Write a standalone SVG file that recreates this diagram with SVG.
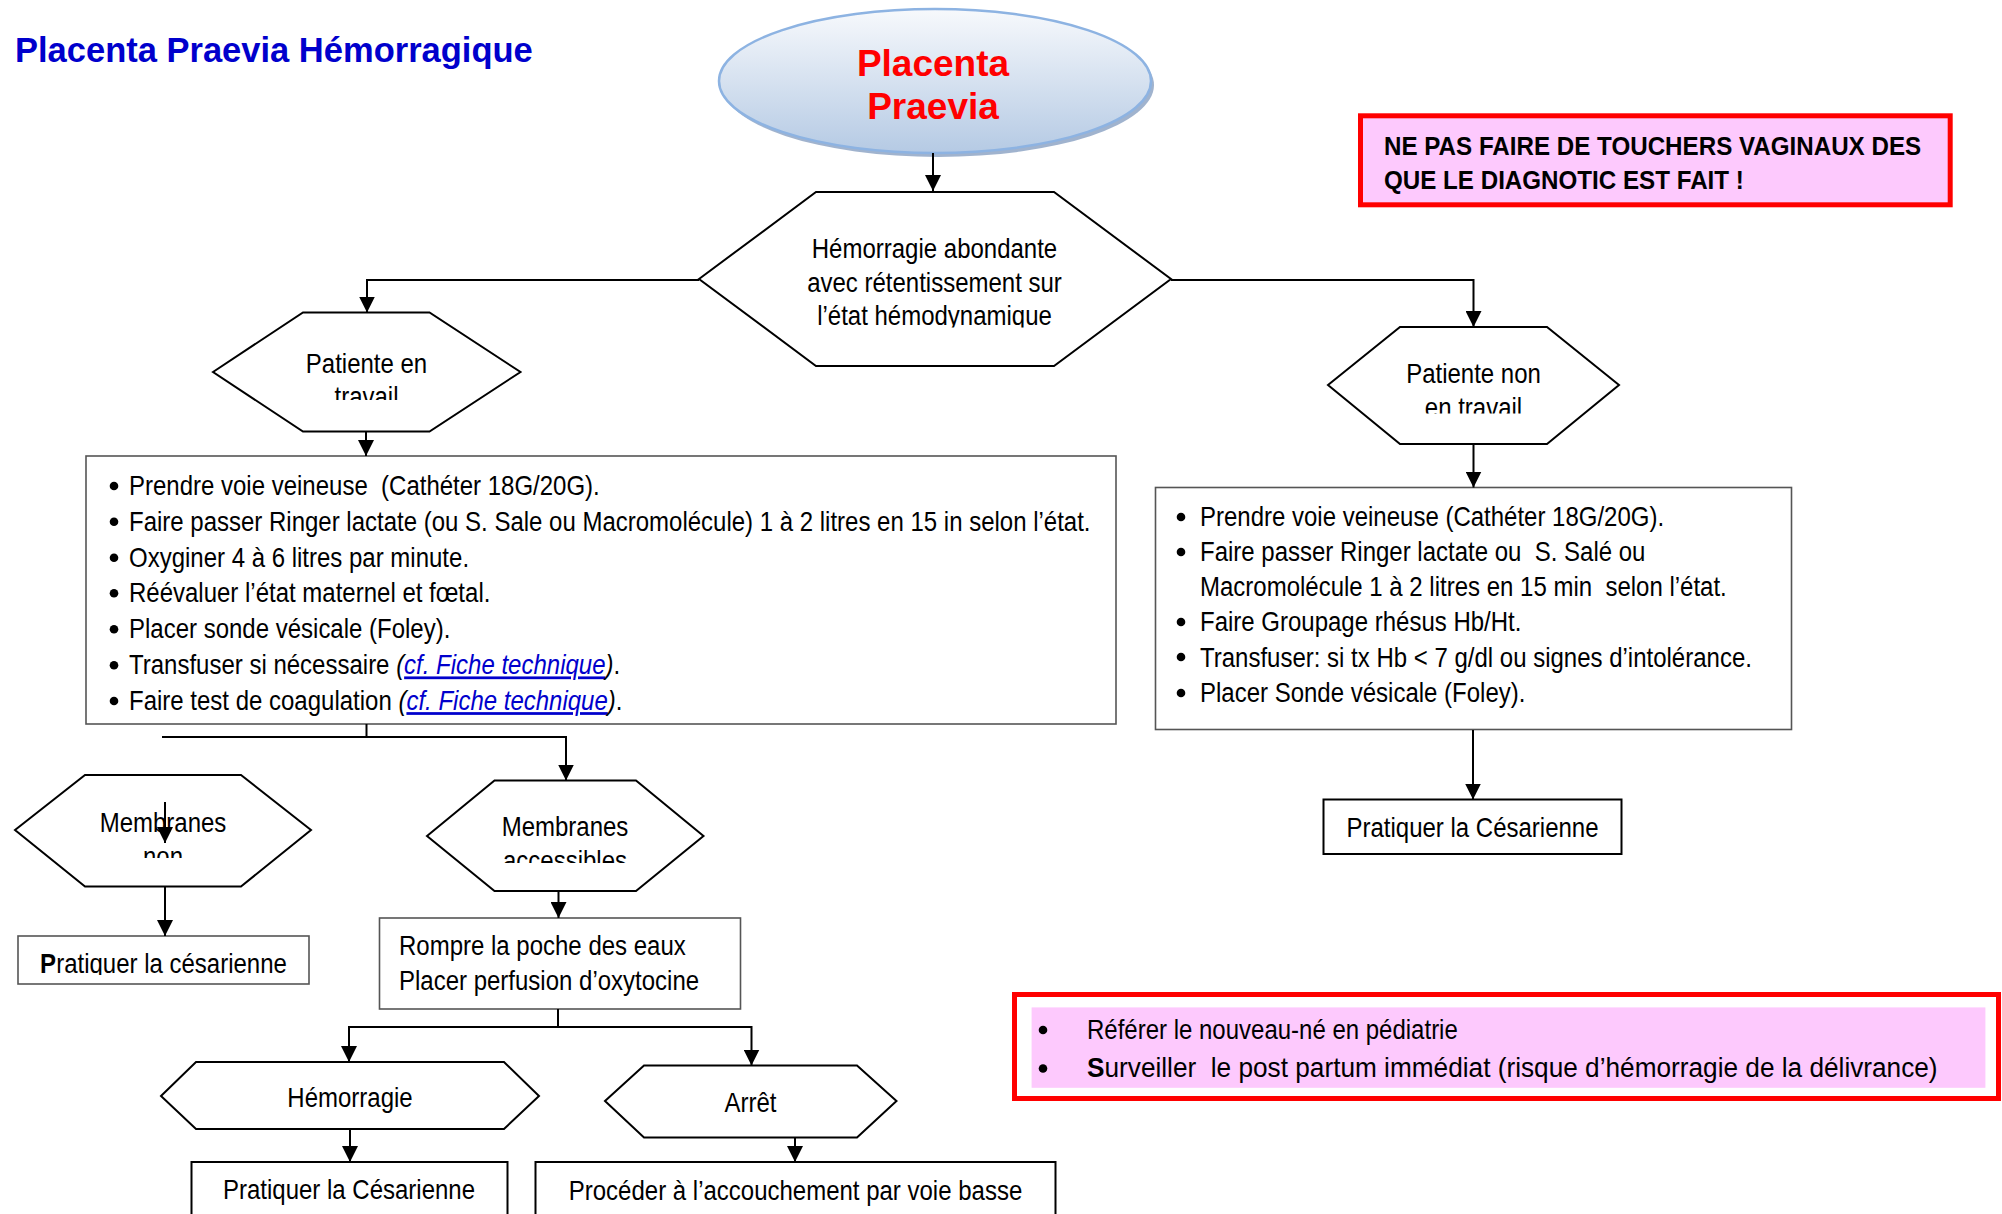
<svg xmlns="http://www.w3.org/2000/svg" width="2002" height="1214" viewBox="0 0 2002 1214">
<style>
.t{font-family:"Liberation Sans",Arial,sans-serif;font-size:27.5px;fill:#000;white-space:pre}
.c{text-anchor:middle}
.b{font-weight:bold}
.hex{fill:#fff;stroke:#000;stroke-width:2}
.box{fill:#fff;stroke:#555;stroke-width:1.6}
.boxk{fill:#fff;stroke:#000;stroke-width:2}
.con{fill:none;stroke:#000;stroke-width:2}
.arr{fill:none;stroke:#000;stroke-width:2;marker-end:url(#ah)}
.lnk{fill:#0000CC;font-style:italic;text-decoration:underline}
.it{font-style:italic}
</style>
<defs>
<marker id="ah" viewBox="0 0 16 16" refX="16" refY="8" markerWidth="16" markerHeight="16" markerUnits="userSpaceOnUse" orient="auto">
<path d="M0,0 L16,8 L0,16 z" fill="#000"/>
</marker>
<linearGradient id="eg" x1="0" y1="0" x2="0" y2="1">
<stop offset="0" stop-color="#f7f9fc"/>
<stop offset="1" stop-color="#b5cae4"/>
</linearGradient>
<clipPath id="cl1"><rect x="700" y="200" width="470" height="127.5"/></clipPath>
<clipPath id="cl2"><rect x="213" y="313" width="307" height="87"/></clipPath>
<clipPath id="cl3"><rect x="1328" y="327" width="291" height="86.5"/></clipPath>
<clipPath id="cl4"><rect x="15" y="776" width="296" height="82"/></clipPath>
<clipPath id="cl5"><rect x="427" y="781" width="276" height="82"/></clipPath>
<clipPath id="cl6"><rect x="18" y="936" width="291" height="39"/></clipPath>
</defs>
<rect width="2002" height="1214" fill="#fff"/>

<g id="title">
<text class="b" x="15" y="62" style="font-family:'Liberation Sans',Arial,sans-serif;font-size:34.5px;fill:#0000CC">Placenta Praevia Hémorragique</text>
</g>

<g id="n-placenta">
<ellipse cx="938" cy="85" rx="216" ry="72" fill="#8fa6c6" opacity="0.85"/>
<ellipse cx="935" cy="81" rx="216" ry="72" fill="url(#eg)" stroke="#8db3e2" stroke-width="2.5"/>
<text class="b c" x="933" y="76" style="font-family:'Liberation Sans',Arial,sans-serif;font-size:37px;fill:#FF0000">Placenta</text>
<text class="b c" x="933" y="118.5" style="font-family:'Liberation Sans',Arial,sans-serif;font-size:37px;fill:#FF0000">Praevia</text>
</g>

<g id="n-warning">
<rect x="1360.5" y="115.8" width="589.7" height="89" fill="#FDC9FD" stroke="#FF0000" stroke-width="5"/>
<text class="t b" transform="translate(1384,155) scale(0.93,1)" style="font-size:26px">NE PAS FAIRE DE TOUCHERS VAGINAUX DES</text>
<text class="t b" transform="translate(1384,188.5) scale(0.93,1)" style="font-size:26px">QUE LE DIAGNOTIC EST FAIT !</text>
</g>

<g id="n-hemorragie-abondante">
<polygon class="hex" points="699,279 816,192 1054,192 1171,279 1054,366 816,366"/>
<g clip-path="url(#cl1)">
<text class="t c" transform="translate(934.5,258.3) scale(0.873,1)">Hémorragie abondante</text>
<text class="t c" transform="translate(934.5,291.7) scale(0.873,1)">avec rétentissement sur</text>
<text class="t c" transform="translate(934.5,325) scale(0.873,1)">l’état hémodynamique</text>
</g>
</g>

<g id="n-patiente-travail">
<polygon class="hex" points="213,372 303,312.5 429.5,312.5 520.5,372 429.5,431.5 303,431.5"/>
<g clip-path="url(#cl2)">
<text class="t c" transform="translate(366.5,372.7) scale(0.873,1)">Patiente en</text>
<text class="t c" transform="translate(366.5,406) scale(0.873,1)">travail</text>
</g>
</g>

<g id="n-patiente-non-travail">
<polygon class="hex" points="1328,385 1400,327 1547,327 1619,385 1547,444 1400,444"/>
<g clip-path="url(#cl3)">
<text class="t c" transform="translate(1473.5,383.3) scale(0.873,1)">Patiente non</text>
<text class="t c" transform="translate(1473.5,416.8) scale(0.873,1)">en travail</text>
</g>
</g>

<g id="n-mesures-travail">
<rect class="box" x="86" y="456" width="1030" height="268"/>
<g fill="#000">
<circle cx="114" cy="486" r="4.3"/><circle cx="114" cy="521.7" r="4.3"/><circle cx="114" cy="557.7" r="4.3"/>
<circle cx="114" cy="593.3" r="4.3"/><circle cx="114" cy="629.3" r="4.3"/><circle cx="114" cy="665.3" r="4.3"/>
<circle cx="114" cy="701" r="4.3"/>
</g>
<text class="t" transform="translate(129,495) scale(0.873,1)">Prendre voie veineuse  (Cathéter 18G/20G).</text>
<text class="t" transform="translate(129,530.7) scale(0.873,1)">Faire passer Ringer lactate (ou S. Sale ou Macromolécule) 1 à 2 litres en 15 in selon l’état.</text>
<text class="t" transform="translate(129,566.7) scale(0.873,1)">Oxyginer 4 à 6 litres par minute.</text>
<text class="t" transform="translate(129,602.3) scale(0.873,1)">Réévaluer l’état maternel et fœtal.</text>
<text class="t" transform="translate(129,638.3) scale(0.873,1)">Placer sonde vésicale (Foley).</text>
<text class="t" transform="translate(129,674.3) scale(0.873,1)">Transfuser si nécessaire <tspan class="it">(</tspan><tspan class="lnk">cf. Fiche technique</tspan><tspan class="it">)</tspan>.</text>
<text class="t" transform="translate(129,710) scale(0.873,1)">Faire test de coagulation <tspan class="it">(</tspan><tspan class="lnk">cf. Fiche technique</tspan><tspan class="it">)</tspan>.</text>
</g>

<g id="n-mesures-non-travail">
<rect class="box" x="1155.5" y="487.5" width="636" height="242"/>
<g fill="#000">
<circle cx="1181" cy="517" r="4.3"/><circle cx="1181" cy="552" r="4.3"/>
<circle cx="1181" cy="622" r="4.3"/><circle cx="1181" cy="657" r="4.3"/><circle cx="1181" cy="693" r="4.3"/>
</g>
<text class="t" transform="translate(1200,526) scale(0.873,1)">Prendre voie veineuse (Cathéter 18G/20G).</text>
<text class="t" transform="translate(1200,561) scale(0.873,1)">Faire passer Ringer lactate ou  S. Salé ou</text>
<text class="t" transform="translate(1200,595.5) scale(0.873,1)">Macromolécule 1 à 2 litres en 15 min  selon l’état.</text>
<text class="t" transform="translate(1200,631) scale(0.873,1)">Faire Groupage rhésus Hb/Ht.</text>
<text class="t" transform="translate(1200,666.5) scale(0.873,1)">Transfuser: si tx Hb &lt; 7 g/dl ou signes d’intolérance.</text>
<text class="t" transform="translate(1200,702) scale(0.873,1)">Placer Sonde vésicale (Foley).</text>
</g>

<g id="n-cesarienne-right">
<rect class="boxk" x="1323.5" y="799.5" width="298" height="54.5"/>
<text class="t c" transform="translate(1472.5,836.5) scale(0.873,1)">Pratiquer la Césarienne</text>
</g>

<g id="n-membranes-non">
<polygon class="hex" points="15,830 85,775 241,775 311,830 241,886.5 85,886.5"/>
<g clip-path="url(#cl4)">
<text class="t c" transform="translate(163,832) scale(0.873,1)">Membranes</text>
<text class="t c" transform="translate(163,865.5) scale(0.873,1)">non</text>
</g>
</g>

<g id="n-membranes-accessibles">
<polygon class="hex" points="427,836 494.5,780.5 636,780.5 703.5,836 636,891 494.5,891"/>
<g clip-path="url(#cl5)">
<text class="t c" transform="translate(565,836) scale(0.873,1)">Membranes</text>
<text class="t c" transform="translate(565,869.5) scale(0.873,1)">accessibles</text>
</g>
</g>

<g id="n-cesarienne-left">
<rect class="box" x="18" y="936" width="291" height="48"/>
<g clip-path="url(#cl6)">
<text class="t c" transform="translate(163.5,973) scale(0.873,1)"><tspan class="b">P</tspan>ratiquer la césarienne</text>
</g>
</g>

<g id="n-rompre">
<rect class="box" x="379.5" y="918" width="361" height="91"/>
<text class="t" transform="translate(399,955) scale(0.873,1)">Rompre la poche des eaux</text>
<text class="t" transform="translate(399,990) scale(0.873,1)">Placer perfusion d’oxytocine</text>
</g>

<g id="n-hemorragie">
<polygon class="hex" points="161,1096 196,1062 504,1062 539,1096 504,1129 196,1129"/>
<text class="t c" transform="translate(350,1107) scale(0.873,1)">Hémorragie</text>
</g>

<g id="n-arret">
<polygon class="hex" points="605,1101 644,1065.5 857,1065.5 896.5,1101 857,1137.5 644,1137.5"/>
<text class="t c" transform="translate(750.5,1112) scale(0.873,1)">Arrêt</text>
</g>

<g id="n-cesarienne-bottom">
<rect class="boxk" x="191.5" y="1162" width="316" height="70"/>
<text class="t c" transform="translate(349,1198.5) scale(0.873,1)">Pratiquer la Césarienne</text>
</g>

<g id="n-voie-basse">
<rect class="boxk" x="535.5" y="1162" width="520" height="70"/>
<text class="t c" transform="translate(795.5,1199.5) scale(0.873,1)">Procéder à l’accouchement par voie basse</text>
</g>

<g id="n-consignes">
<rect x="1014.5" y="994.5" width="984" height="104" fill="#fff" stroke="#FF0000" stroke-width="5"/>
<rect x="1031.6" y="1007.4" width="953.8" height="80.4" fill="#FDC9FD"/>
<circle cx="1043" cy="1030" r="4.3" fill="#000"/>
<circle cx="1043" cy="1068.5" r="4.3" fill="#000"/>
<text class="t" transform="translate(1087,1038.5) scale(0.873,1)">Référer le nouveau-né en pédiatrie</text>
<text class="t" transform="translate(1087,1077) scale(0.953,1)"><tspan class="b">S</tspan>urveiller  le post partum immédiat (risque d’hémorragie de la délivrance)</text>
</g>

<g id="connectors">
<line class="arr" x1="933" y1="153" x2="933" y2="191"/>
<polyline class="arr" points="699,280 367,280 367,312.5"/>
<polyline class="arr" points="1171,280 1473.5,280 1473.5,327"/>
<line class="arr" x1="366" y1="432" x2="366" y2="456"/>
<line class="arr" x1="1473.5" y1="444" x2="1473.5" y2="487.5"/>
<line class="arr" x1="1473" y1="730" x2="1473" y2="799.5"/>
<line class="con" x1="366.5" y1="724" x2="366.5" y2="737"/>
<line class="con" x1="162" y1="737" x2="566" y2="737"/>
<line class="arr" x1="566" y1="736" x2="566" y2="780.5"/>
<line class="arr" x1="165" y1="802" x2="165" y2="843"/>
<line class="arr" x1="165" y1="887" x2="165" y2="936"/>
<line class="arr" x1="558.5" y1="891" x2="558.5" y2="918"/>
<line class="con" x1="558" y1="1009" x2="558" y2="1027"/>
<line class="con" x1="349" y1="1027" x2="751.5" y2="1027"/>
<line class="arr" x1="349" y1="1026" x2="349" y2="1062"/>
<line class="arr" x1="751.5" y1="1026" x2="751.5" y2="1065.5"/>
<line class="arr" x1="350" y1="1129" x2="350" y2="1162"/>
<line class="arr" x1="795" y1="1137.5" x2="795" y2="1162"/>
</g>
</svg>
